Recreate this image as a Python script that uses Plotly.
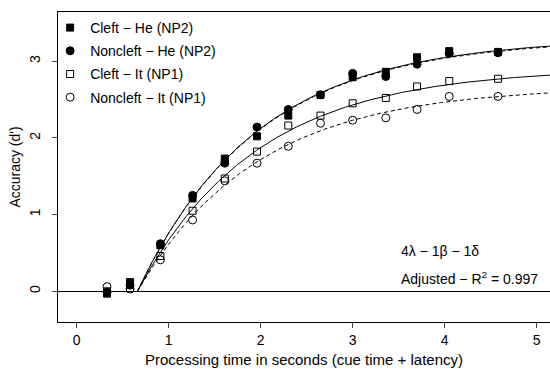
import numpy as np
import plotly.graph_objects as go

# Data
times = [0.33, 0.58, 0.91, 1.26, 1.61, 1.96, 2.30, 2.65, 3.00, 3.36, 3.70, 4.05, 4.58]
cleft_he = [-0.03, 0.12, 0.60, 1.21, 1.73, 2.02, 2.29, 2.56, 2.79, 2.86, 3.05, 3.13, 3.12]
noncleft_he = [-0.01, 0.08, 0.62, 1.25, 1.67, 2.14, 2.37, 2.56, 2.84, 2.80, 2.96, 3.10, 3.11]
cleft_it = [0.00, 0.04, 0.46, 1.05, 1.47, 1.82, 2.16, 2.29, 2.45, 2.52, 2.67, 2.74, 2.77]
noncleft_it = [0.06, 0.03, 0.41, 0.93, 1.44, 1.67, 1.89, 2.19, 2.23, 2.26, 2.37, 2.54, 2.54]

series_names = ["Cleft − He (NP2)", "Noncleft − He (NP2)", "Cleft − It (NP1)", "Noncleft − It (NP1)"]
series_values = [cleft_he, noncleft_he, cleft_it, noncleft_it]
# fitted model parameters (4 lambda, 1 beta, 1 delta)
lambdas = [3.30, 3.29, 2.91, 2.67]
beta = 0.77
delta = 0.66

symbols = ["square", "circle", "square-open", "circle-open"]
sizes = [7, 8, 7, 8]
dashes = ["solid", "4px,3px", "solid", "4px,3px"]

fig = go.Figure()
tt = np.linspace(delta, 5.2, 300)
for name, lam, dash in zip(series_names, lambdas, dashes):
    fig.add_trace(go.Scatter(x=tt, y=lam * (1 - np.exp(-beta * (tt - delta))), mode="lines",
                             line=dict(color="black", width=1, dash=dash),
                             showlegend=False, hoverinfo="skip"))
for i, (name, vals, sym, sz) in enumerate(zip(series_names, series_values, symbols, sizes)):
    fig.add_trace(go.Scatter(x=times, y=vals, mode="markers", name=name, legendgroup=str(i),
                             marker=dict(symbol=sym, size=sz, color="black",
                                         line=dict(color="black", width=1))))

font = "Liberation Sans, Arial, sans-serif"
fig.add_annotation(x=3.5, y=0.52, xref="x", yref="y", text="4λ − 1β − 1δ", showarrow=False,
                   xanchor="left", yanchor="middle", font=dict(size=14, color="black", family=font))
fig.add_annotation(x=3.5, y=0.17, xref="x", yref="y", text="Adjusted − R<sup>2</sup> = 0.997", showarrow=False,
                   xanchor="left", yanchor="middle", font=dict(size=14, color="black", family=font))

fig.update_layout(
    width=550, height=369,
    margin=dict(l=58, r=0, t=12, b=47, autoexpand=False),
    paper_bgcolor="white", plot_bgcolor="white",
    font=dict(family=font, size=14, color="black"),
    showlegend=True,
    legend=dict(x=-0.016, y=1.0, xanchor="left", yanchor="top", bgcolor="rgba(0,0,0,0)",
                font=dict(size=14), traceorder="grouped", tracegroupgap=2, itemwidth=30),
    xaxis=dict(range=[-0.203, 5.145], tickvals=[0, 1, 2, 3, 4, 5], ticks="outside", ticklen=5,
               showline=True, linecolor="black", linewidth=1, mirror=True, showgrid=False, zeroline=False,
               automargin=False,
               title=dict(text="Processing time in seconds (cue time + latency)", font=dict(size=15), standoff=7),
               tickfont=dict(size=14)),
    yaxis=dict(range=[-0.40, 3.64], tickvals=[0, 1, 2, 3], ticks="outside", ticklen=5, tickangle=-90,
               showline=True, linecolor="black", linewidth=1, showgrid=False, ticklabelstandoff=6,
               zeroline=True, zerolinecolor="black", zerolinewidth=1, automargin=False,
               title=dict(text="Accuracy (d')", font=dict(size=14), standoff=3),
               tickfont=dict(size=14)),
)

fig.write_html("out.html", config={"displayModeBar": False},
               post_script="document.body.style.margin='0';document.body.style.overflow='hidden';")
